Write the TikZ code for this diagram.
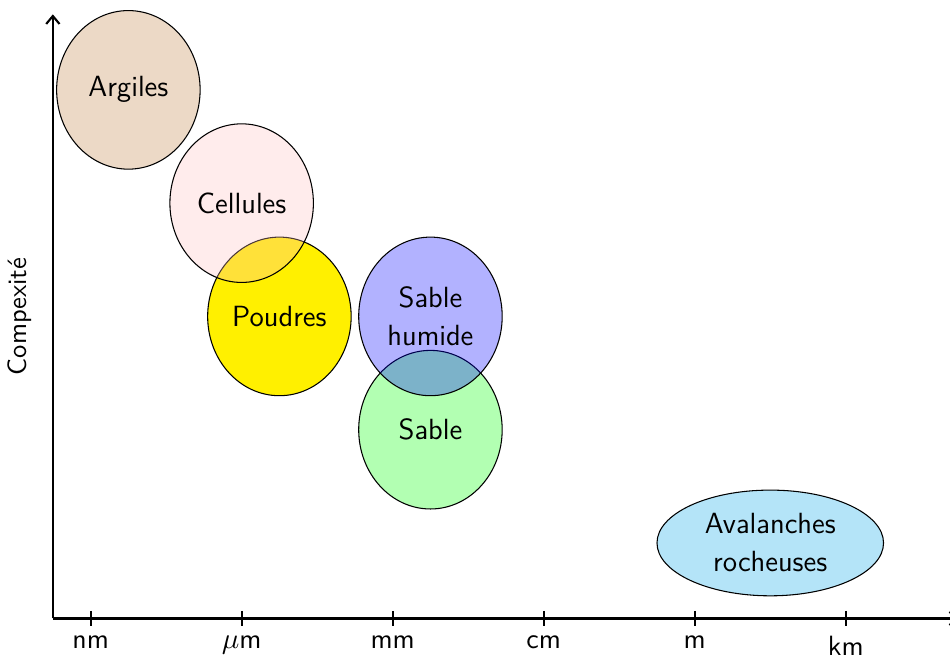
\documentclass[tikz,border=0pt]{standalone}
\usepackage{xcolor}
\usepackage{tikz}
\usetikzlibrary{shapes.geometric, arrows.meta}
\renewcommand{\familydefault}{\sfdefault}
\definecolor{argColor}{RGB}{236,217,198}
\definecolor{avalColor}{RGB}{180,228,248}
\definecolor{poudColor}{RGB}{255,240,0}
\tikzset{
    grain/.style={
        ellipse,
        draw,
        thin,
        minimum width=1.9cm,
        minimum height=2.1cm,
        inner sep=0pt,
        align=center,
        font=\fontsize{11}{14.3}\selectfont
    },
    axis/.style={
        -{Straight Barb[length=3pt, width=5pt]},
        thick
    },
    tickmark/.style={
        thick
    }
}
\begin{document}
\begin{tikzpicture}
    \useasboundingbox (-0.70,-0.477) rectangle (11.88,8.19);
    % axes
    \coordinate (O) at (0,0);
    \coordinate (xend) at (12,0);
    \coordinate (yend) at (0,8);
    \draw[axis] (O) -- (xend);
    \draw[axis] (O) -- (yend);
    \node[rotate=90] (ylab) at (-0.44,4) {Compexité};
    \foreach \x/\u [count=\i] in {0.5/nm, 2.5/$\mu$m, 4.5/mm, 6.5/cm, 8.5/m, 10.5/km}{
        \draw[tickmark] (\x,0.1) -- (\x,-0.1) node[below, font=\fontsize{10.5}{12}\selectfont] (t\i) {\u};
    }

    % grains
    \node[grain, fill=argColor] (arg) at (1,7) {Argiles};
    \node[grain, fill=poudColor] (poud) at (3,4) {Poudres};
    \node[grain, fill=pink, fill opacity=0.3, text opacity=1, draw opacity=1] (cell) at (2.5,5.5) {Cellules};
    \node[grain, fill=green!30] (sab) at (5,2.5) {Sable};
    \node[grain, fill=blue, fill opacity=0.3, text opacity=1, draw opacity=1] (sabh) at (5,4) {Sable\\humide};
    \node[grain, fill=avalColor, minimum width=3cm, minimum height=1.4cm] (aval) at (9.5,1) {Avalanches\\rocheuses};
\end{tikzpicture}
\end{document}
